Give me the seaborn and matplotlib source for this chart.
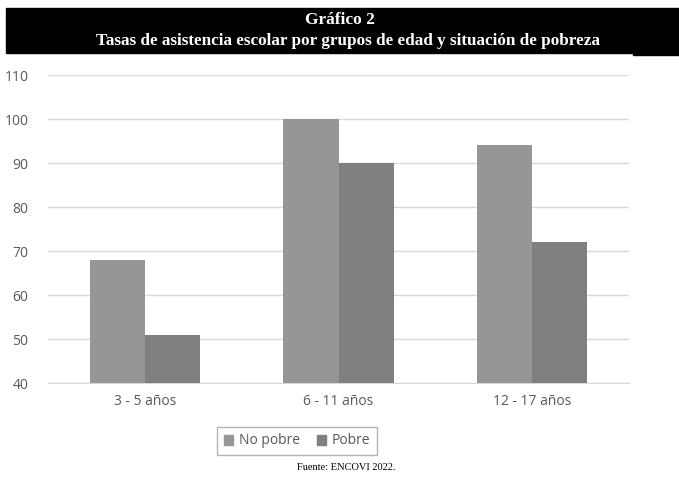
import pandas as pd
import matplotlib.pyplot as plt
import matplotlib.patches as mpatches
import seaborn as sns

# data
grupos = ["3 - 5 años", "6 - 11 años", "12 - 17 años"]
no_pobre = [68, 100, 94]
pobre = [51, 90, 72]
series = ["No pobre", "Pobre"]
colores = ["#969696", "#7f7f7f"]

df = pd.DataFrame({
    "grupo": grupos * 2,
    "tasa": no_pobre + pobre,
    "situacion": [series[0]] * 3 + [series[1]] * 3,
})

sns.set_style("white")
plt.rcParams["font.family"] = ["Open Sans", "DejaVu Sans"]

fig = plt.figure(figsize=(6.79, 4.79), dpi=100)
ax = fig.add_axes([0.0707, 0.2004, 0.8557, 0.643])

sns.barplot(data=df, x="grupo", y="tasa", hue="situacion", palette=colores,
            width=0.57, saturation=1, ax=ax, legend=False, zorder=3, linewidth=0)

ax.set_ylim(40, 110)
ax.set_yticks(range(40, 111, 10))
ax.set_xlim(-0.5, 2.5)
ax.yaxis.grid(True, color="#d9d9d9", linewidth=1, zorder=0)
for s in ["top", "right", "left"]:
    ax.spines[s].set_visible(False)
ax.spines["bottom"].set_color("#d9d9d9")
ax.tick_params(axis="both", length=0, labelsize=10, colors="#595959", pad=8)
ax.tick_params(axis="y", pad=14)
ax.set_xlabel("")
ax.set_ylabel("")

# legend box
handles = [mpatches.Patch(color=c, label=l) for c, l in zip(colores, series)]
fig.legend(handles=handles, loc="center", bbox_to_anchor=(297 / 679, 1 - 441 / 479),
           ncol=2, frameon=True, fontsize=10, handlelength=0.7, handleheight=0.7,
           handletextpad=0.4, columnspacing=1.2, borderpad=0.45,
           edgecolor="#a0a0a0", fancybox=False, labelcolor="#595959")

# black title band
fig.patches.append(mpatches.Rectangle((6 / 679, 1 - 53 / 479), 673 / 679, 45 / 479,
                                      transform=fig.transFigure, color="black", zorder=0))
fig.patches.append(mpatches.Rectangle((633 / 679, 1 - 55 / 479), 46 / 679, 3 / 479,
                                      transform=fig.transFigure, color="black", zorder=0))
fig.text(340 / 679, 1 - 20 / 479, "Gráfico 2", ha="center", va="center", color="white",
         fontsize=12.5, fontweight="bold", family="Liberation Serif")
fig.text(348 / 679, 1 - 41 / 479,
         "Tasas de asistencia escolar por grupos de edad y situación de pobreza",
         ha="center", va="center", color="white", fontsize=12.3, fontweight="bold",
         family="Liberation Serif")

fig.text(346 / 679, 1 - 467 / 479, "Fuente: ENCOVI 2022.", ha="center", va="center",
         fontsize=7.5, family="Liberation Serif", color="black")

plt.savefig("out.png", dpi=100)
